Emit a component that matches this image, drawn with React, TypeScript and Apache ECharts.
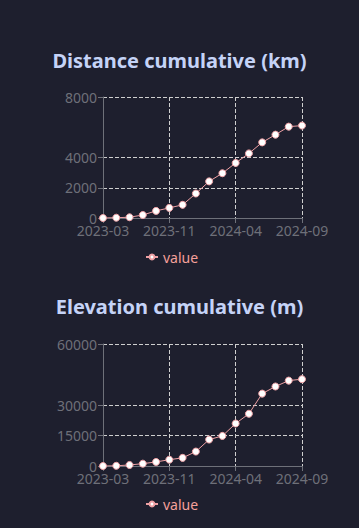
import React, { useEffect, useRef } from "react";
import * as echarts from "echarts";

const months = [
  "2023-03", "2023-05", "2023-07", "2023-08", "2023-10", "2023-11",
  "2023-12", "2024-01", "2024-02", "2024-03", "2024-04", "2024-05",
  "2024-06", "2024-07", "2024-08", "2024-09",
];
const distanceKm = [0, 20, 50, 200, 470, 670, 870, 1620, 2420, 2960, 3640, 4270, 5000, 5510, 6040, 6110];
const elevationM = [0, 100, 500, 1150, 2000, 3100, 4000, 7100, 13000, 14800, 20900, 25700, 35600, 39100, 42000, 42700];
const distanceTicks = [0, 2000, 4000, 8000];
const elevationTicks = [0, 15000, 30000, 60000];
const titles = ["Distance cumulative (km)", "Elevation cumulative (m)"];

const BG = "#1e1f2e";
const FONT = "Noto Sans";
const LINE = "#eea0a4";

export default function App() {
  const ref = useRef<HTMLDivElement>(null);
  useEffect(() => {
    document.body.style.margin = "0";
    document.body.style.background = BG;
    const chart = echarts.init(ref.current!, null, { renderer: "svg" });
    const grids = [
      { left: 103, width: 199, top: 97, height: 121 },
      { left: 103, width: 199, top: 344, height: 122 },
    ];
    const tickSets = [distanceTicks, elevationTicks];
    const dataSets = [distanceKm, elevationM];
    chart.setOption({
      animation: false,
      backgroundColor: BG,
      textStyle: { fontFamily: FONT },
      title: titles.map((t, i) => ({
        text: t,
        left: "center",
        top: i === 0 ? 45 : 291,
        textStyle: { color: "#c5d3f7", fontSize: 20, fontWeight: "bold", fontFamily: FONT },
      })),
      legend: [0, 1].map((i) => ({
        data: [{ name: "value" }],
        seriesIndex: [i],
        left: 140,
        top: i === 0 ? 245 : 492,
        itemWidth: 12,
        itemHeight: 6,
        itemGap: 5,
        textStyle: { color: "#f4a09a", fontSize: 14, fontFamily: FONT },
        selectedMode: false,
      })),
      grid: grids,
      xAxis: [0, 1].map((i) => ({
        type: "category",
        gridIndex: i,
        data: months,
        boundaryGap: false,
        axisLine: { lineStyle: { color: "#6e7079" } },
        axisTick: { interval: 4, lineStyle: { color: "#6e7079" } },
        axisLabel: { interval: 4, color: "#6e7079", fontSize: 14, margin: 5 },
        splitLine: { show: true, interval: 4, lineStyle: { type: "dashed", color: "#cfcfcf" } },
      })),
      yAxis: [0, 1].map((i) => ({
        type: "value",
        gridIndex: i,
        min: 0,
        max: tickSets[i][tickSets[i].length - 1],
        axisLine: { show: true, lineStyle: { color: "#6e7079" } },
        axisTick: { show: true, customValues: tickSets[i], lineStyle: { color: "#6e7079" } },
        axisLabel: {
          customValues: tickSets[i],
          color: "#6e7079",
          fontSize: 14,
          margin: 6,
          formatter: (v: number) => String(v),
        },
        splitLine: { show: true, lineStyle: { type: "dashed", color: "#cfcfcf" } },
      })),
      series: [0, 1].map((i) => ({
        type: "line",
        name: "value",
        xAxisIndex: i,
        yAxisIndex: i,
        data: dataSets[i],
        symbol: "circle",
        symbolSize: 7,
        lineStyle: { color: LINE, width: 1 },
        itemStyle: { color: "#ffffff", borderColor: LINE, borderWidth: 1 },
      })),
    });
    return () => chart.dispose();
  }, []);
  return <div ref={ref} style={{ width: 359, height: 528 }} />;
}
